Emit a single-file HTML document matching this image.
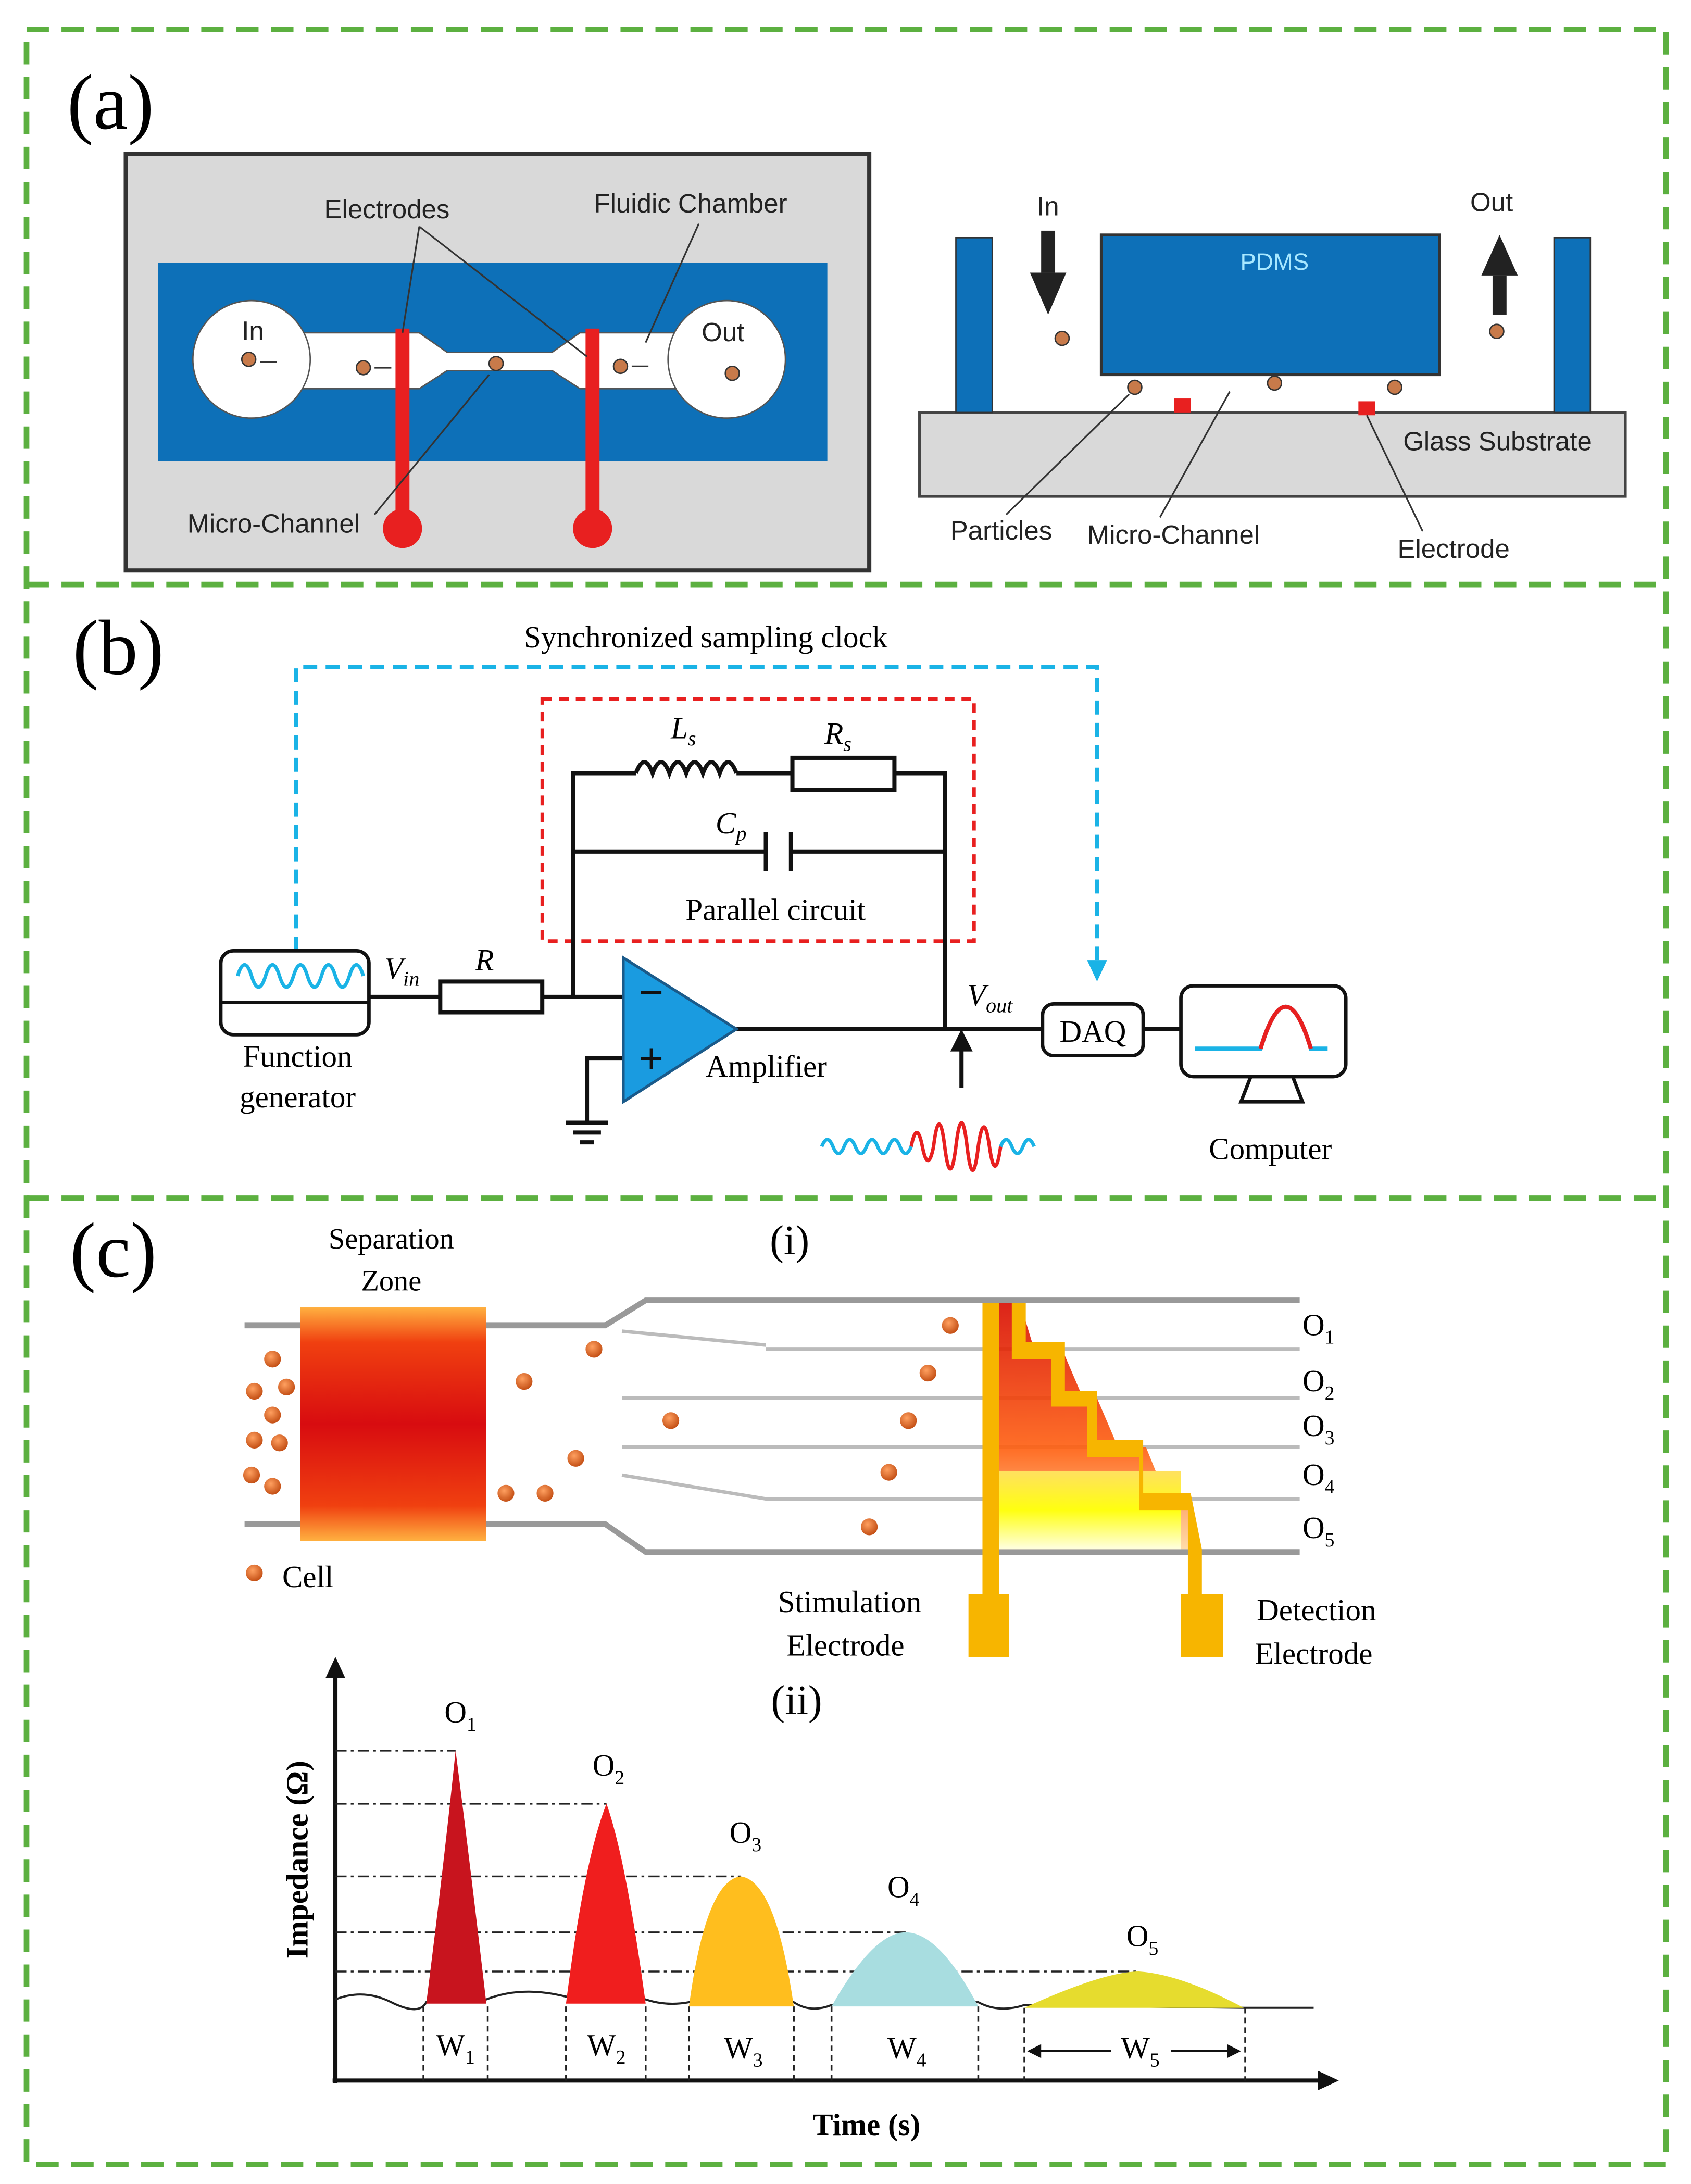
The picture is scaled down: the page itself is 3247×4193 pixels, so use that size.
<!DOCTYPE html>
<html><head><meta charset="utf-8">
<style>
html,body{margin:0;padding:0;background:#fff;}
svg{display:block;}
.s{font-family:"Liberation Sans",sans-serif;}
.r{font-family:"Liberation Serif",serif;}
</style></head>
<body>
<svg width="3247" height="4193" viewBox="0 0 1210 1562" preserveAspectRatio="none" xmlns="http://www.w3.org/2000/svg">
<defs>
<linearGradient id="zone" x1="0" y1="0" x2="0" y2="1">
<stop offset="0" stop-color="#ffb040"/><stop offset="0.15" stop-color="#f04010"/><stop offset="0.5" stop-color="#d80c10"/><stop offset="0.85" stop-color="#f04010"/><stop offset="1" stop-color="#ffb040"/></linearGradient>
<linearGradient id="o12" x1="0" y1="0" x2="0" y2="1"><stop offset="0" stop-color="#d80c00"/><stop offset="0.6" stop-color="#ff6010"/><stop offset="1" stop-color="#ffd8a0"/></linearGradient>
<linearGradient id="o45" x1="0" y1="0" x2="0" y2="1"><stop offset="0" stop-color="#ffe060"/><stop offset="0.5" stop-color="#ffff10"/><stop offset="1" stop-color="#ffffe0"/></linearGradient>
<radialGradient id="cell" cx="0.4" cy="0.35" r="0.7"><stop offset="0" stop-color="#ffa060"/><stop offset="1" stop-color="#c04a10"/></radialGradient>
</defs>

<!-- outer frames -->
<g fill="none" stroke="#5cb040" stroke-width="4" stroke-dasharray="16,9">
<rect x="19" y="21" width="1173" height="1527"/>
<line x1="19" y1="418" x2="1192" y2="418"/>
<line x1="19" y1="857" x2="1192" y2="857"/>
</g>

<!-- (a) -->
<text x="48" y="92" class="r" font-size="56">(a)</text>
<rect x="90" y="110" width="532" height="298" fill="#d9d9d9" stroke="#333" stroke-width="3"/>
<rect x="113" y="188" width="479" height="142" fill="#0d70b8"/>
<polygon points="215,238 300,238 320,252 395,252 415,238 485,238 485,278 415,278 395,265 320,265 300,278 215,278" fill="#fff" stroke="#555" stroke-width="1"/>
<circle cx="180" cy="257" r="42" fill="#fff" stroke="#555"/>
<circle cx="520" cy="257" r="42" fill="#fff" stroke="#555"/>
<rect x="283" y="235" width="10" height="135" fill="#e82020"/><circle cx="288" cy="378" r="14" fill="#e82020"/>
<rect x="419" y="235" width="10" height="135" fill="#e82020"/><circle cx="424" cy="378" r="14" fill="#e82020"/>
<g fill="#c87a4a" stroke="#333" stroke-width="1"><circle cx="178" cy="257" r="5"/><circle cx="260" cy="263" r="5"/><circle cx="355" cy="260" r="5"/><circle cx="444" cy="262" r="5"/><circle cx="524" cy="267" r="5"/></g>
<g stroke="#333" stroke-width="1.2"><line x1="186" y1="259" x2="198" y2="259"/><line x1="268" y1="263" x2="280" y2="263"/><line x1="452" y1="262" x2="464" y2="262"/>
<line x1="300" y1="162" x2="288" y2="238"/><line x1="300" y1="162" x2="420" y2="255"/><line x1="500" y1="160" x2="462" y2="245"/><line x1="268" y1="368" x2="350" y2="268"/></g>
<g class="s" font-size="19" fill="#222">
<text x="232" y="156">Electrodes</text><text x="425" y="152">Fluidic Chamber</text><text x="134" y="381">Micro-Channel</text>
<text x="173" y="243">In</text><text x="502" y="244">Out</text></g>

<rect x="658" y="295" width="505" height="60" fill="#d9d9d9" stroke="#444" stroke-width="2"/>
<rect x="684" y="170" width="26" height="125" fill="#0d70b8" stroke="#333"/>
<rect x="1112" y="170" width="26" height="125" fill="#0d70b8" stroke="#333"/>
<rect x="788" y="168" width="242" height="100" fill="#0d70b8" stroke="#333" stroke-width="2"/>
<text x="912" y="193" class="s" font-size="17" fill="#a8e8ff" text-anchor="middle">PDMS</text>
<rect x="745" y="165" width="10" height="30" fill="#222"/><polygon points="737,195 763,195 750,225" fill="#222"/>
<rect x="1068" y="197" width="10" height="28" fill="#222"/><polygon points="1060,197 1086,197 1073,168" fill="#222"/>
<rect x="840" y="285" width="12" height="10" fill="#e82020"/><rect x="972" y="287" width="12" height="10" fill="#e82020"/>
<g fill="#c87a4a" stroke="#333"><circle cx="760" cy="242" r="5"/><circle cx="812" cy="277" r="5"/><circle cx="912" cy="274" r="5"/><circle cx="998" cy="277" r="5"/><circle cx="1071" cy="237" r="5"/></g>
<g stroke="#333" stroke-width="1.2"><line x1="720" y1="368" x2="808" y2="282"/><line x1="830" y1="370" x2="880" y2="280"/><line x1="1018" y1="380" x2="978" y2="297"/></g>
<g class="s" font-size="19" fill="#222"><text x="742" y="154">In</text><text x="1052" y="151">Out</text><text x="1004" y="322">Glass Substrate</text>
<text x="680" y="386">Particles</text><text x="778" y="389">Micro-Channel</text><text x="1000" y="399">Electrode</text></g>

<!-- (b) -->
<text x="52" y="482" class="r" font-size="56">(b)</text>
<text x="505" y="463" class="r" font-size="22" text-anchor="middle">Synchronized sampling clock</text>
<polyline points="212,680 212,477 785,477 785,690" fill="none" stroke="#1ab3e6" stroke-width="3" stroke-dasharray="10,6"/>
<polygon points="778,687 792,687 785,702" fill="#1ab3e6"/>
<rect x="388" y="500" width="309" height="173" fill="none" stroke="#e82020" stroke-width="2.5" stroke-dasharray="7,5"/>
<g stroke="#111" stroke-width="3" fill="none">
<polyline points="410,713 410,553 455,553"/>
<path d="M455,553 q6,-16 12,0 q6,-16 12,0 q6,-16 12,0 q6,-16 12,0 q6,-16 12,0 q6,-16 12,0"/>
<line x1="527" y1="553" x2="567" y2="553"/>
<rect x="567" y="542" width="73" height="23" fill="#fff"/>
<polyline points="640,553 676,553 676,736"/>
<polyline points="410,609 548,609"/><line x1="548" y1="595" x2="548" y2="623"/><line x1="566" y1="595" x2="566" y2="623"/><polyline points="566,609 676,609"/>
<line x1="264" y1="713" x2="315" y2="713"/><rect x="315" y="702" width="73" height="22" fill="#fff"/><line x1="388" y1="713" x2="446" y2="713"/>
<line x1="527" y1="736" x2="746" y2="736"/><line x1="818" y1="736" x2="845" y2="736"/>
<polyline points="446,757 420,757 420,803"/>
<line x1="405" y1="803" x2="435" y2="803"/><line x1="410" y1="810" x2="430" y2="810"/><line x1="415" y1="817" x2="425" y2="817"/>
</g>
<g class="r" font-style="italic" font-size="22"><text x="480" y="528">L<tspan font-size="15" dy="5">s</tspan></text><text x="590" y="532">R<tspan font-size="15" dy="5">s</tspan></text>
<text x="512" y="596">C<tspan font-size="15" dy="5">p</tspan></text><text x="340" y="694">R</text>
<text x="275" y="700">V<tspan font-size="15" dy="5">in</tspan></text><text x="692" y="719">V<tspan font-size="15" dy="5">out</tspan></text></g>
<text x="555" y="658" class="r" font-size="22" text-anchor="middle">Parallel circuit</text>
<rect x="158" y="680" width="106" height="60" rx="9" fill="#fff" stroke="#111" stroke-width="2.5"/>
<line x1="158" y1="717" x2="264" y2="717" stroke="#111" stroke-width="2"/>
<path d="M170,698 q5,-16 10,0 t10,0 t10,0 t10,0 t10,0 t10,0 t10,0 t10,0 t10,0" fill="none" stroke="#1ab3e6" stroke-width="2.5"/>
<text x="213" y="763" class="r" font-size="22" text-anchor="middle">Function</text><text x="213" y="792" class="r" font-size="22" text-anchor="middle">generator</text>
<polygon points="446,685 446,788 527,736" fill="#1a9be0" stroke="#1a5a8a" stroke-width="2"/>
<text x="466" y="720" font-size="30" class="s" text-anchor="middle" fill="#111">−</text><text x="466" y="767" font-size="30" class="s" text-anchor="middle" fill="#111">+</text>
<text x="505" y="770" class="r" font-size="22">Amplifier</text>
<rect x="746" y="718" width="72" height="37" rx="8" fill="#fff" stroke="#111" stroke-width="2.5"/>
<text x="782" y="745" class="r" font-size="22" text-anchor="middle">DAQ</text>
<rect x="845" y="705" width="118" height="65" rx="9" fill="#fff" stroke="#111" stroke-width="2.5"/>
<polygon points="895,770 925,770 932,788 888,788" fill="#fff" stroke="#111" stroke-width="2.5"/>
<path d="M855,750 L902,750 Q920,690 938,750 L950,750" fill="none" stroke="#1ab3e6" stroke-width="3"/>
<path d="M902,750 Q920,690 938,750" fill="none" stroke="#e82020" stroke-width="3"/>
<text x="909" y="829" class="r" font-size="22" text-anchor="middle">Computer</text>
<line x1="688" y1="778" x2="688" y2="750" stroke="#111" stroke-width="3"/><polygon points="680,752 696,752 688,736" fill="#111"/>
<path d="M588,820 q4,-10 8,0 t8,0 t8,0 t8,0 t8,0 t8,0 t8,0 t8,0" fill="none" stroke="#1ab3e6" stroke-width="2.5"/>
<path d="M652,820 q4,-20 8,0 t8,0 q4,-32 8,0 t8,0 q4,-34 8,0 t8,0 q4,-28 8,0 t8,0" fill="none" stroke="#e82020" stroke-width="2.5"/>
<path d="M716,820 q4,-10 8,0 t8,0 t8,0" fill="none" stroke="#1ab3e6" stroke-width="2.5"/>

<!-- (c) -->
<text x="50" y="913" class="r" font-size="56">(c)</text>
<text x="280" y="893" class="r" font-size="21" text-anchor="middle">Separation</text><text x="280" y="923" class="r" font-size="21" text-anchor="middle">Zone</text>
<text x="565" y="897" class="r" font-size="30" text-anchor="middle">(i)</text>
<g stroke="#999" stroke-width="4" fill="none"><polyline points="175,948 433,948 462,930 930,930"/><polyline points="175,1090 433,1090 462,1110 930,1110"/></g>
<g stroke="#bbb" stroke-width="2.5"><line x1="445" y1="952" x2="548" y2="962"/><line x1="548" y1="965" x2="930" y2="965"/>
<line x1="445" y1="1000" x2="930" y2="1000"/><line x1="445" y1="1035" x2="930" y2="1035"/><line x1="445" y1="1055" x2="548" y2="1072"/><line x1="548" y1="1072" x2="930" y2="1072"/></g>
<rect x="215" y="935" width="133" height="167" fill="url(#zone)"/>
<polygon points="715,932 730,932 740,965 760,965 775,1000 785,1000 800,1035 820,1035 835,1072 850,1072 858,1108 715,1108" fill="url(#o12)" opacity="0.9"/>
<rect x="715" y="1052" width="130" height="56" fill="url(#o45)"/>
<g fill="#f7b500"><rect x="703" y="932" width="12" height="212"/><rect x="693" y="1140" width="29" height="45"/>
<polygon points="724,932 734,932 734,960 762,960 762,995 785,995 785,1030 818,1030 818,1068 852,1068 860,1108 860,1145 850,1145 850,1080 815,1080 815,1042 778,1042 778,1006 752,1006 752,972 724,972"/>
<rect x="845" y="1140" width="30" height="45"/></g>
<g fill="url(#cell)"><circle cx="680" cy="948" r="6"/><circle cx="664" cy="982" r="6"/><circle cx="650" cy="1016" r="6"/><circle cx="636" cy="1053" r="6"/><circle cx="622" cy="1092" r="6"/><circle cx="480" cy="1016" r="6"/>
<circle cx="195" cy="972" r="6"/><circle cx="182" cy="995" r="6"/><circle cx="205" cy="992" r="6"/><circle cx="195" cy="1012" r="6"/><circle cx="182" cy="1030" r="6"/><circle cx="200" cy="1032" r="6"/><circle cx="195" cy="1063" r="6"/><circle cx="180" cy="1055" r="6"/>
<circle cx="375" cy="988" r="6"/><circle cx="425" cy="965" r="6"/><circle cx="412" cy="1043" r="6"/><circle cx="362" cy="1068" r="6"/><circle cx="390" cy="1068" r="6"/><circle cx="182" cy="1125" r="6"/></g>
<text x="202" y="1135" class="r" font-size="22">Cell</text>
<g class="r" font-size="22"><text x="932" y="955">O<tspan font-size="14" dy="6">1</tspan></text><text x="932" y="995">O<tspan font-size="14" dy="6">2</tspan></text><text x="932" y="1027">O<tspan font-size="14" dy="6">3</tspan></text><text x="932" y="1062">O<tspan font-size="14" dy="6">4</tspan></text><text x="932" y="1100">O<tspan font-size="14" dy="6">5</tspan></text></g>
<g class="r" font-size="22" text-anchor="middle"><text x="608" y="1153">Stimulation</text><text x="605" y="1184">Electrode</text><text x="942" y="1159">Detection</text><text x="940" y="1190">Electrode</text></g>
<text x="570" y="1226" class="r" font-size="30" text-anchor="middle">(ii)</text>

<!-- (ii) chart -->
<g stroke="#111" stroke-width="3"><line x1="240" y1="1490" x2="240" y2="1198"/><line x1="238" y1="1488" x2="945" y2="1488"/></g>
<polygon points="233,1200 247,1200 240,1185" fill="#111"/><polygon points="943,1481 943,1495 958,1488" fill="#111"/>
<text transform="translate(220,1330) rotate(-90)" class="r" font-size="22" font-weight="bold" text-anchor="middle">Impedance (Ω)</text>
<text x="620" y="1527" class="r" font-size="22" font-weight="bold" text-anchor="middle">Time (s)</text>
<path d="M240,1430 q20,-8 40,2 t25,0 L348,1430 q25,-10 57,-2 L462,1430 q15,5 31,2 L568,1432 q12,8 27,2 L700,1432 q15,8 33,2 L890,1436 L940,1436" fill="none" stroke="#222" stroke-width="1.5"/>
<g stroke="#222" stroke-width="1.3" stroke-dasharray="8,3,2,3" fill="none">
<line x1="240" y1="1252" x2="326" y2="1252"/><line x1="240" y1="1290" x2="434" y2="1290"/><line x1="240" y1="1342" x2="530" y2="1342"/><line x1="240" y1="1382" x2="648" y2="1382"/><line x1="240" y1="1410" x2="815" y2="1410"/></g>
<path d="M305,1433 Q318,1330 326,1252 Q336,1330 348,1433 Z" fill="#c8141e"/>
<path d="M405,1433 Q418,1330 434,1290 Q448,1330 462,1433 Z" fill="#f01e1e"/>
<path d="M493,1435 Q505,1345 530,1342 Q555,1345 568,1435 Z" fill="#ffbe1e"/>
<path d="M595,1435 Q625,1382 648,1382 Q672,1382 700,1435 Z" fill="#a8dde0"/>
<path d="M733,1436 Q790,1410 815,1410 Q845,1412 890,1436 Z" fill="#e6dc2e"/>
<g stroke="#222" stroke-width="1.3" stroke-dasharray="4,3"><line x1="303" y1="1435" x2="303" y2="1488"/><line x1="349" y1="1435" x2="349" y2="1488"/><line x1="405" y1="1435" x2="405" y2="1488"/><line x1="462" y1="1435" x2="462" y2="1488"/><line x1="493" y1="1435" x2="493" y2="1488"/><line x1="568" y1="1435" x2="568" y2="1488"/><line x1="595" y1="1435" x2="595" y2="1488"/><line x1="700" y1="1435" x2="700" y2="1488"/><line x1="733" y1="1436" x2="733" y2="1488"/><line x1="891" y1="1436" x2="891" y2="1488"/></g>
<g class="r" font-size="22"><text x="312" y="1470">W<tspan font-size="14" dy="6">1</tspan></text><text x="420" y="1470">W<tspan font-size="14" dy="6">2</tspan></text><text x="518" y="1472">W<tspan font-size="14" dy="6">3</tspan></text><text x="635" y="1472">W<tspan font-size="14" dy="6">4</tspan></text><text x="802" y="1472">W<tspan font-size="14" dy="6">5</tspan></text>
<text x="318" y="1232">O<tspan font-size="14" dy="6">1</tspan></text><text x="424" y="1270">O<tspan font-size="14" dy="6">2</tspan></text><text x="522" y="1318">O<tspan font-size="14" dy="6">3</tspan></text><text x="635" y="1357">O<tspan font-size="14" dy="6">4</tspan></text><text x="806" y="1392">O<tspan font-size="14" dy="6">5</tspan></text></g>
<g stroke="#111" stroke-width="1.5"><line x1="740" y1="1467" x2="795" y2="1467"/><line x1="838" y1="1467" x2="883" y2="1467"/></g>
<polygon points="735,1467 745,1462 745,1472" fill="#111"/><polygon points="888,1467 878,1462 878,1472" fill="#111"/>
</svg>
</body></html>
